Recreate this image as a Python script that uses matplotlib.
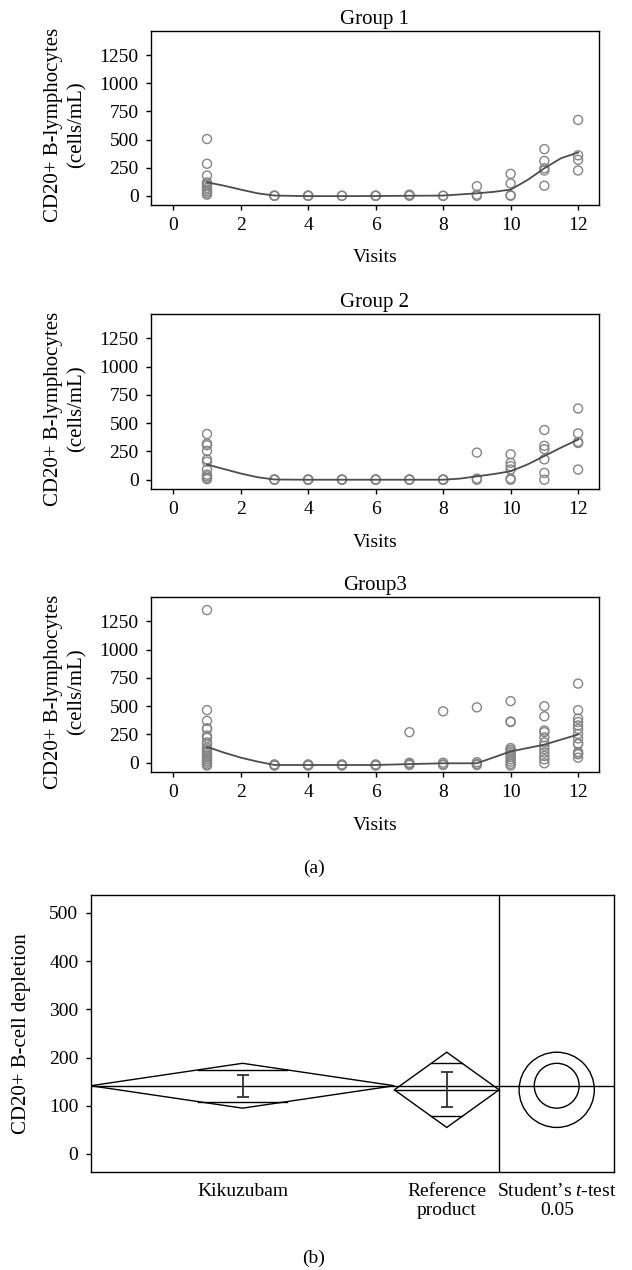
import numpy as np
import matplotlib.pyplot as plt
from matplotlib.patches import Ellipse, Polygon

plt.rcParams['font.family'] = ['Liberation Serif', 'DejaVu Serif']
plt.rcParams['mathtext.fontset'] = 'custom'
plt.rcParams['mathtext.rm'] = 'Liberation Serif'
plt.rcParams['mathtext.it'] = 'Liberation Serif:italic'
plt.rcParams['font.size'] = 14

# --- panel (a): CD20+ counts per visit ---
visits = [1, 3, 4, 5, 6, 7, 8, 9, 10, 11, 12]

g1_values = [
    [505, 285, 180, 120, 105, 90, 70, 55, 40, 25, 10],
    [0, 0, 2], [0, 0, 2], [0, 0], [0, 0, 2], [0, 5, 10], [0, 0],
    [85, 10, 0],
    [195, 110, 5, 0],
    [415, 310, 245, 225, 90],
    [675, 360, 320, 225],
]
g2_values = [
    [405, 320, 305, 255, 180, 160, 90, 45, 30, 15, 5],
    [0, 0, 3], [0, 0, 3], [0, 0, 3], [0, 0, 3], [0, 0, 3], [0, 0, 3],
    [240, 10, 0],
    [225, 150, 120, 90, 10, 0],
    [440, 300, 270, 180, 60, 0],
    [630, 410, 335, 325, 90],
]
g3_values = [
    [1350, 465, 370, 305, 300, 240, 220, 180, 165, 135, 120, 105, 90, 75,
     60, 45, 30, 15, 0, -15, -25],
    [-20, -25, -15, -20], [-20, -25, -15, -20], [-20, -15, -25], [-20, -25, -15],
    [270, 0, -10, -20],
    [455, 0, -15, -20],
    [490, 5, -10, -20],
    [545, 365, 360, 130, 115, 100, 85, 70, 50, 30, 10, -10, -25],
    [500, 410, 285, 270, 225, 180, 150, 120, 90, 60, 30, -5],
    [700, 465, 390, 360, 330, 300, 255, 215, 170, 165, 95, 80, 75, 45],
]

# smoother
g1_curve_x = [1, 1.5, 2, 2.5, 3, 4, 5, 6, 7, 8, 9, 9.5, 10, 10.5, 11, 11.5, 12]
g1_curve_y = [120, 90, 55, 22, 2, -3, -3, -2, 0, 2, 22, 35, 55, 140, 245, 335, 385]
g2_curve_x = [1, 1.5, 2, 2.5, 3, 4, 5, 6, 7, 8, 8.5, 9, 9.5, 10, 10.5, 11, 11.5, 12]
g2_curve_y = [135, 95, 55, 22, 2, 0, 0, 0, 0, 0, 10, 30, 50, 75, 135, 210, 285, 355]
g3_curve_x = [1, 1.5, 2, 2.5, 3, 4, 5, 6, 7, 8, 9, 10, 11, 12]
g3_curve_y = [140, 90, 45, 10, -20, -20, -20, -20, -12, -5, -5, 100, 160, 250]

titles = ['Group 1', 'Group 2', 'Group3']

# --- panel (b): oneway means ---
groups_b = ['Kikuzubam', 'Reference\nproduct']
means_b = [141.5, 133]
ci_b = [46.5, 78]
err_b = [23, 36]
grand_mean = 141.5
test_label = 'Student\u2019s $t$-test\n0.05'

W, H = 632, 1270
fig = plt.figure(figsize=(W / 100, H / 100), dpi=100)


def box(l, t, r, b):
    return [l / W, 1 - b / H, (r - l) / W, (b - t) / H]


panel_boxes = [(151, 31, 599, 205), (151, 314, 599, 489), (151, 597, 599, 772)]
all_vals = [g1_values, g2_values, g3_values]
curves = [(g1_curve_x, g1_curve_y), (g2_curve_x, g2_curve_y), (g3_curve_x, g3_curve_y)]

for bx, vals, (cx, cy), ttl in zip(panel_boxes, all_vals, curves, titles):
    ax = fig.add_axes(box(*bx))
    xs = [v for v, vv in zip(visits, vals) for _ in vv]
    ys = [y for vv in vals for y in vv]
    ax.scatter(xs, ys, s=42, facecolors='none', edgecolors='#858585', linewidths=1.0, zorder=2)
    ax.plot(cx, cy, color='#4d4d4d', lw=1.3, zorder=3)
    ax.set_xlim(-0.66, 12.62)
    ax.set_ylim(-82, 1466)
    ax.set_xticks(range(0, 13, 2))
    ax.set_yticks([0, 250, 500, 750, 1000, 1250])
    ax.tick_params(direction='out', length=3.8, width=1, pad=5)
    for s in ax.spines.values():
        s.set_linewidth(1.0)
    ax.set_title(ttl, pad=5, fontsize=15)
    ax.set_xlabel('Visits', labelpad=11)
    ax.set_ylabel('CD20+ B-lymphocytes\n(cells/mL)', linespacing=1.3, fontsize=15)
    ax.yaxis.set_label_coords(-0.143, 0.46)

fig.text(314 / W, 1 - 868 / H, '(a)', ha='center', va='center')

# --- panel (b) ---
axb = fig.add_axes(box(90.7, 895, 614.3, 1172.3))
widths = [2.9, 1.0]
cmp_w = 1.1
lefts = [0, widths[0]]
split = sum(widths)
xmax = split + cmp_w
ylo, yhi = -38, 537
axb.set_xlim(0, xmax)
axb.set_ylim(ylo, yhi)

lc = 'black'
axb.axhline(grand_mean, color=lc, lw=1.0)
axb.axvline(split, color=lc, lw=1.0)
k = 1 - 1 / np.sqrt(2)
for left, w, m, ci, e in zip(lefts, widths, means_b, ci_b, err_b):
    c = left + w / 2
    axb.add_patch(Polygon([(left, m), (c, m + ci), (left + w, m), (c, m - ci)],
                          closed=True, fill=False, edgecolor=lc, lw=1.0))
    if abs(m - grand_mean) > 0.5:
        axb.plot([left, left + w], [m, m], color=lc, lw=1.0)
    hw = w / 2 * k
    for sgn in (1, -1):
        axb.plot([c - hw, c + hw], [m + sgn * ci / np.sqrt(2)] * 2, color=lc, lw=1.0)
    axb.errorbar(c, m, yerr=e, color='#333333', lw=1.3, capsize=4, capthick=1.3)

# comparison circles (round in pixel space)
bb = axb.get_position()
xpx = bb.width * W / xmax
ypx = bb.height * H / (yhi - ylo)
ccx = split + cmp_w / 2
for m, r in zip(means_b, ci_b):
    axb.add_patch(Ellipse((ccx, m), width=2 * r * ypx / xpx, height=2 * r,
                          fill=False, edgecolor=lc, lw=1.0))

centers = [l + w / 2 for l, w in zip(lefts, widths)] + [ccx]
axb.set_xticks(centers, groups_b + [test_label])
axb.tick_params(axis='x', length=0, pad=8)
axb.tick_params(axis='y', direction='out', length=3.8, width=1, pad=5)
axb.set_yticks(range(0, 501, 100))
for s in axb.spines.values():
    s.set_linewidth(1.0)
for t in axb.get_xticklabels():
    t.set_linespacing(1.15)
axb.set_ylabel('CD20+ B-cell depletion', labelpad=13, fontsize=15)

fig.text(314 / W, 1 - 1258 / H, '(b)', ha='center', va='center')

fig.savefig('out.png', dpi=100)
